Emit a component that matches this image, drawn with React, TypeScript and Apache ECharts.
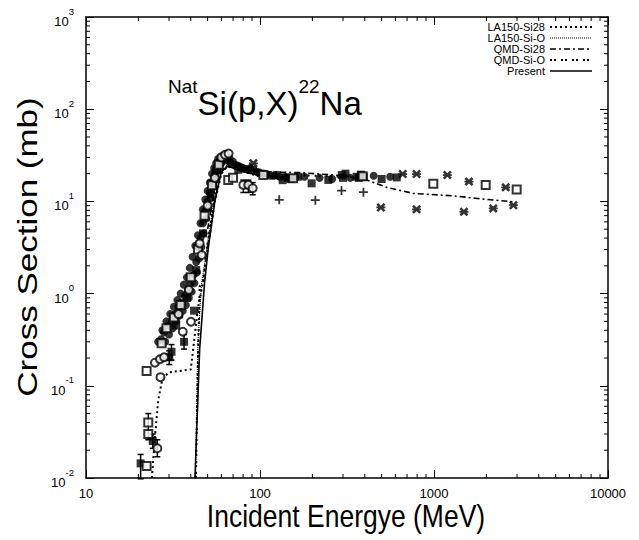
import React, { useEffect, useRef } from "react";
import * as echarts from "echarts";

// ---- data ----
const xTickValues = [10, 100, 1000, 10000];
const xMinorTicks = [20, 30, 40, 50, 60, 70, 80, 90, 200, 300, 400, 500, 600, 700, 800, 900, 2000, 3000, 4000, 5000, 6000, 7000, 8000, 9000];
const yMinorTicks = [0.02, 0.03, 0.04, 0.05, 0.06, 0.07, 0.08, 0.09, 0.2, 0.3, 0.4, 0.5, 0.6, 0.7, 0.8, 0.9, 2, 3, 4, 5, 6, 7, 8, 9, 20, 30, 40, 50, 60, 70, 80, 90, 200, 300, 400, 500, 600, 700, 800, 900];

const legendNames = ["LA150-Si28", "LA150-Si-O", "QMD-Si28", "QMD-Si-O", "Present"];
const xTitle = "Incident Energye (MeV)";
const yTitle = "Cross Section (mb)";

// model curves [MeV, mb]
const la150Si28 = [[23.9, 0.01], [25, 0.03], [26, 0.07], [27.5, 0.12], [30, 0.14], [40, 0.15], [44, 0.7], [47, 1.3], [50, 3], [55, 10], [60, 20], [65, 24], [100, 18.5], [150, 17]];
const la150SiO = [[42.6, 0.01], [44, 0.3], [46, 1.2], [50, 3.6], [55, 11], [60, 21], [65, 25], [80, 21], [100, 19], [150, 17.5]];
const qmdSi28 = [[50, 5], [55, 14], [60, 24], [70, 27], [100, 21], [170, 20.5], [300, 19], [410, 17.1], [535, 14.2], [760, 12.2], [1290, 11.5], [2000, 10.5], [2860, 9.9]];
const qmdSiO = [[42.8, 0.01], [44, 0.2], [45, 1.2], [47, 1.3], [50, 3.5], [55, 12], [60, 22], [70, 25], [100, 20], [200, 19], [300, 18.5]];
const present = [[42.3, 0.01], [45, 0.25], [48, 1.3], [50.5, 3.2], [55, 10], [60, 21], [65, 24], [70, 23], [80, 21], [100, 19], [150, 18]];

// experimental points [MeV, mb]
const expFilledSquares = [[20.6, 0.0144], [24.2, 0.0252], [30.1, 0.204], [31, 0.234], [36.6, 0.3], [41.8, 0.653], [33, 0.45], [38, 0.9], [43, 1.8], [47, 4.5], [52, 12], [56, 22], [62, 28], [75, 22], [125, 19.3], [135, 17], [145, 18], [150, 17.5], [165, 18.5], [198, 15.7], [247, 17.1], [295, 19.3], [300, 18], [310, 20], [359, 18.5], [370, 18], [380, 19.5], [395, 18.5], [500, 17.5], [611, 18.2]];
const expOpenSquares = [[22.3, 0.0135], [22.8, 0.03], [22.8, 0.04], [22.3, 0.145], [27.2, 0.289], [29, 0.42], [32, 0.55], [35, 0.75], [40, 1.5], [44, 3], [48, 7], [53, 15], [58, 25], [65.7, 17.1], [70, 18], [104.5, 19.3], [155, 17.8], [389, 18.7], [991, 15.5], [1982, 15.1], [2986, 13.5]];
const expCircles = [[25.7, 0.021], [26.8, 0.124], [24.9, 0.178], [26.6, 0.194], [28.1, 0.204], [36, 0.386], [40.1, 0.495], [46.2, 2.62], [34, 0.6], [39, 1.1], [45, 3.5], [50, 9], [55, 18], [60, 30], [63, 32], [66, 33], [80.2, 15.1], [85.7, 15.1], [90.8, 13.9]];
const expPlus = [[129, 10.4], [208, 10.3], [294, 13.1], [393, 12.6]];
const expStars = [[495, 8.6], [794, 8.2], [1486, 7.7], [2190, 8.4], [2860, 9.1], [794, 19.8], [1193, 19.3], [1588, 16.4], [2583, 14.2], [91.6, 25.9], [661, 19.8]];
const expDense = [[26, 0.3], [27, 0.32], [27.5, 0.4], [28, 0.38], [28.5, 0.3], [29, 0.5], [29.5, 0.45], [30, 0.36], [30.5, 0.6], [31, 0.5], [31.5, 0.42], [32, 0.72], [32.5, 0.6], [33, 0.5], [33.5, 0.85], [34, 0.72], [34.5, 0.58], [35, 1.0], [35.5, 0.8], [36, 0.65], [36.5, 1.25], [37, 0.95], [37.5, 0.75], [38, 1.5], [38.5, 1.1], [39, 0.9], [39.5, 1.9], [40, 1.3], [40.5, 1.05], [41, 2.5], [41.5, 1.6], [42, 1.3], [42.5, 3.3], [43, 2.2], [43.5, 1.7], [44, 4.3], [44, 3.2], [44.5, 2.4], [45.5, 5.8], [45.5, 4], [46, 3.2], [47, 8.2], [47, 5.8], [47.5, 4.5], [48.5, 10.5], [48.5, 8], [49, 6.5], [50, 13], [50, 10], [50.5, 8.5], [51.5, 16], [51.5, 12.5], [52, 11], [53, 20], [53, 16], [54, 14.5], [54.5, 23], [55, 20], [56, 26], [56, 18], [57, 24], [57.5, 29], [58, 22], [59, 28], [60, 26], [61, 31], [62, 29], [63, 32], [64, 30], [65, 31], [66, 28], [67, 29], [68, 26], [70, 27], [72, 25], [74, 24.5], [76, 24], [78, 23.5], [80, 23], [83, 22.5], [86, 22], [88, 23], [92, 22], [96, 21], [100, 20.5], [105, 20], [110, 19.5], [115, 19], [120, 19], [130, 18.5], [140, 18.5], [160, 18], [180, 18.5], [220, 18], [260, 17.5], [330, 18], [450, 19], [560, 18.5]];
// error bars [MeV, low, high]
const expErrors = [[20.6, 0.0098, 0.018], [22.8, 0.026, 0.05], [24.2, 0.021, 0.03], [25.7, 0.017, 0.026], [30.1, 0.17, 0.24], [31, 0.19, 0.28], [36.6, 0.25, 0.36], [80.2, 12.5, 17], [85.7, 12.5, 17], [90.8, 11.8, 16]];

const FONT = "'Liberation Sans', Arial, Helvetica, sans-serif";

function lineSeries(name: string, data: number[][], type: any, width: number) {
  return {
    name,
    type: "line",
    data,
    symbol: "none",
    xAxisIndex: 0,
    yAxisIndex: 0,
    lineStyle: { color: "#000", width, type },
    z: 2,
  };
}

function scatter(data: number[][], symbol: string, size: number, itemStyle: any) {
  return { type: "scatter", data, symbol, symbolSize: size, itemStyle, z: 3 };
}

const legendStyles: { dash: number[] | null; width: number }[] = [
  { dash: [2, 3], width: 2 },
  { dash: [1, 1], width: 1.2 },
  { dash: [6, 3, 2, 3], width: 1.6 },
  { dash: [2, 2, 2, 5], width: 2 },
  { dash: null, width: 1.6 },
];

const STAR = "path://M0,2L2,0L5,3L8,0L10,2L7,5L10,8L8,10L5,7L2,10L0,8L3,5Z M0,4H10V6H0Z";
const PLUS = "path://M4,0H6V4H10V6H6V10H4V6H0V4H4Z";

export default function App() {
  const ref = useRef<HTMLDivElement>(null);
  useEffect(() => {
    document.body.style.margin = "0";
    const chart = echarts.init(ref.current!, undefined, { renderer: "svg" });
    const rowY = [27, 38, 49, 60, 71];
    const graphic: any[] = [];
    legendNames.forEach((n, i) => {
      graphic.push({
        type: "text",
        x: 545,
        y: rowY[i],
        style: { text: n, align: "right", verticalAlign: "middle", fontSize: 11, fontFamily: FONT, fill: "#000" },
      });
      const ls = legendStyles[i];
      graphic.push({
        type: "line",
        shape: { x1: 550, y1: rowY[i], x2: 592, y2: rowY[i] },
        style: { stroke: "#000", lineWidth: ls.width, lineDash: ls.dash || undefined },
      });
    });
    // axis titles (tall, condensed lettering as in the reference)
    graphic.push({
      type: "text",
      x: 346,
      y: 516,
      scaleY: 1.15,
      style: { text: xTitle, align: "center", verticalAlign: "middle", fontSize: 26.5, fontFamily: FONT, fill: "#000" },
    });
    graphic.push({
      type: "text",
      x: 27,
      y: 247,
      rotation: Math.PI / 2,
      scaleX: 1.25,
      style: { text: yTitle, align: "center", verticalAlign: "middle", fontSize: 28, fontFamily: FONT, fill: "#000" },
    });

    const tickStyle = { stroke: "#000", lineWidth: 1 };
    const option: any = {
      animation: false,
      backgroundColor: "#fff",
      title: {
        text: "{sup|Nat}{main|Si(p,X)}{sup|22}{main|Na}",
        left: 168,
        top: 77,
        padding: 0,
        textStyle: {
          rich: {
            sup: { fontSize: 19, fontWeight: "normal", fontFamily: FONT, color: "#000", lineHeight: 20, verticalAlign: "top" },
            main: { fontSize: 33, fontWeight: "normal", fontFamily: FONT, color: "#000", lineHeight: 43, verticalAlign: "bottom" },
          },
        },
      },
      grid: { left: 86, right: 31, top: 17, bottom: 62, containLabel: false },
      xAxis: [
        {
          type: "log",
          logBase: 10,
          min: 10,
          max: 10000,
          axisLine: { lineStyle: { color: "#000", width: 1.5 } },
          axisTick: { inside: true, length: 8, lineStyle: { color: "#000", width: 1 } },
          axisLabel: {
            color: "#000",
            fontSize: 13,
            fontFamily: FONT,
            margin: 9,
            formatter: (v: number) => {
              const m = xTickValues.find((t) => Math.abs(t - v) / t < 1e-6);
              return m !== undefined ? String(m) : "";
            },
          },
          splitLine: { show: false },
        },
        {
          type: "log",
          logBase: 10,
          min: 10,
          max: 10000,
          position: "top",
          axisLine: { lineStyle: { color: "#000", width: 1.5 } },
          axisTick: { inside: true, length: 8, lineStyle: { color: "#000", width: 1 } },
          axisLabel: { show: false },
          splitLine: { show: false },
        },
      ],
      yAxis: [
        {
          type: "log",
          logBase: 10,
          min: 0.01,
          max: 1000,
          axisLine: { lineStyle: { color: "#000", width: 1.5 } },
          axisTick: { inside: true, length: 8, lineStyle: { color: "#000", width: 1 } },
          axisLabel: {
            margin: 12,
            formatter: (v: number) => `{b|10}{s|${Math.round(Math.log10(v))}}`,
            rich: {
              b: { fontSize: 13, fontFamily: FONT, color: "#000", lineHeight: 22, verticalAlign: "bottom" },
              s: { fontSize: 9.5, fontFamily: FONT, color: "#000", lineHeight: 10, verticalAlign: "top" },
            },
          },
          splitLine: { show: false },
        },
        {
          type: "log",
          logBase: 10,
          min: 0.01,
          max: 1000,
          position: "right",
          axisLine: { lineStyle: { color: "#000", width: 1.5 } },
          axisTick: { inside: true, length: 8, lineStyle: { color: "#000", width: 1 } },
          axisLabel: { show: false },
          splitLine: { show: false },
        },
      ],
      graphic,
      series: [
        {
          type: "custom",
          silent: true,
          clip: false,
          data: xMinorTicks.map((v) => [v, 1]),
          renderItem: (params: any, api: any) => {
            const p = api.coord([api.value(0), api.value(1)]);
            const cs = params.coordSys;
            const x = p[0];
            return {
              type: "group",
              children: [
                { type: "line", shape: { x1: x, y1: cs.y + cs.height, x2: x, y2: cs.y + cs.height - 4 }, style: tickStyle },
                { type: "line", shape: { x1: x, y1: cs.y, x2: x, y2: cs.y + 4 }, style: tickStyle },
              ],
            };
          },
          z: 1,
        },
        {
          type: "custom",
          silent: true,
          clip: false,
          data: yMinorTicks.map((v) => [100, v]),
          renderItem: (params: any, api: any) => {
            const p = api.coord([api.value(0), api.value(1)]);
            const cs = params.coordSys;
            const y = p[1];
            return {
              type: "group",
              children: [
                { type: "line", shape: { x1: cs.x, y1: y, x2: cs.x + 4, y2: y }, style: tickStyle },
                { type: "line", shape: { x1: cs.x + cs.width, y1: y, x2: cs.x + cs.width - 4, y2: y }, style: tickStyle },
              ],
            };
          },
          z: 1,
        },
        lineSeries(legendNames[0], la150Si28, [2, 3], 2),
        lineSeries(legendNames[1], la150SiO, [1, 1], 1.2),
        lineSeries(legendNames[2], qmdSi28, [6, 3, 2, 3], 1.6),
        lineSeries(legendNames[3], qmdSiO, [2, 2, 2, 5], 2),
        lineSeries(legendNames[4], present, "solid", 1.6),
        {
          type: "custom",
          data: expErrors,
          encode: { x: 0, y: [1, 2] },
          renderItem: (params: any, api: any) => {
            const lo = api.coord([api.value(0), api.value(1)]);
            const hi = api.coord([api.value(0), api.value(2)]);
            return {
              type: "group",
              children: [
                { type: "line", shape: { x1: lo[0], y1: lo[1], x2: hi[0], y2: hi[1] }, style: { stroke: "#000", lineWidth: 1.5 } },
                { type: "line", shape: { x1: lo[0] - 3, y1: lo[1], x2: lo[0] + 3, y2: lo[1] }, style: { stroke: "#000", lineWidth: 1.5 } },
                { type: "line", shape: { x1: hi[0] - 3, y1: hi[1], x2: hi[0] + 3, y2: hi[1] }, style: { stroke: "#000", lineWidth: 1.5 } },
              ],
            };
          },
          z: 3,
        },
        scatter(expDense, "circle", 8, { color: "#000" }),
        scatter(expFilledSquares, "rect", 8, { color: "#000" }),
        scatter(expOpenSquares, "emptyRect", 8, { color: "#000", borderWidth: 2 }),
        scatter(expCircles, "emptyCircle", 8, { color: "#000", borderWidth: 2 }),
        scatter(expPlus, PLUS, 9, { color: "#000" }),
        scatter(expStars, STAR, 9, { color: "#000" }),
      ],
    };
    chart.setOption(option);
    return () => chart.dispose();
  }, []);
  return <div ref={ref} style={{ width: 639, height: 540 }} />;
}
